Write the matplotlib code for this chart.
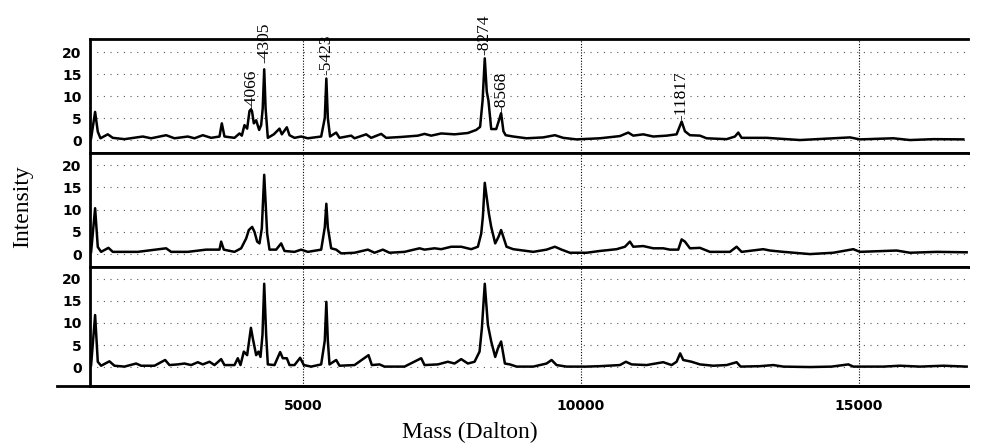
import numpy as np
import matplotlib
matplotlib.use("Agg")
import matplotlib.pyplot as plt


mass_top = [1190, 1262, 1310, 1358, 1490, 1580, 1790, 2120, 2270, 2540, 2690, 2930,
            3050, 3200, 3350, 3500, 3542, 3590, 3770, 3860, 3902, 3950, 3998, 4040,
            4066, 4085, 4118, 4160, 4214, 4250, 4278, 4305, 4330, 4370, 4478, 4580,
            4622, 4712, 4760, 4850, 4970, 5090, 5330, 5395, 5423, 5450, 5490, 5600,
            5660, 5870, 5930, 6140, 6230, 6410, 6500, 6770, 7070, 7190, 7310, 7490,
            7730, 7970, 8120, 8190, 8235, 8274, 8310, 8340, 8390, 8480, 8530, 8568,
            8610, 8650, 8786, 9026, 9326, 9536, 9686, 9926, 10346, 10706, 10856, 10946,
            11126, 11306, 11546, 11726, 11817, 11876, 11966, 12146, 12266, 12626, 12776,
            12836, 12896, 13346, 13946, 14546, 14846, 15026, 15626, 15926, 16346, 16886]
int_top = [0.4, 6.4, 1.9, 0.4, 1.3, 0.5, 0.2, 0.8, 0.4, 1.1, 0.4, 0.8,
           0.4, 1.1, 0.5, 0.8, 3.8, 0.8, 0.5, 1.5, 1.0, 3.4, 2.6, 6.6,
           7.0, 6.6, 3.8, 4.5, 2.3, 3.4, 7.2, 16.1, 7.2, 0.5, 1.3, 2.6,
           1.3, 2.9, 1.1, 0.5, 0.8, 0.4, 0.8, 5.0, 14.0, 5.0, 0.8, 1.7,
           0.5, 1.0, 0.4, 1.3, 0.5, 1.4, 0.5, 0.7, 1.0, 1.4, 1.0, 1.5,
           1.3, 1.6, 2.3, 3.0, 9.0, 18.6, 11.0, 9.0, 2.5, 2.5, 4.5, 6.1,
           2.0, 1.1, 0.8, 0.4, 0.6, 1.1, 0.5, 0.15, 0.4, 0.9, 1.7, 1.0,
           1.3, 0.8, 1.0, 1.3, 4.2, 2.0, 1.1, 1.0, 0.4, 0.2, 0.8,
           1.7, 0.5, 0.5, 0.0, 0.4, 0.6, 0.15, 0.4, 0.0, 0.2, 0.15]

mass_mid = [1190, 1262, 1310, 1370, 1502, 1580, 2030, 2540, 2630, 2930, 3260, 3500,
            3530, 3578, 3770, 3890, 3980, 4028, 4088, 4130, 4178, 4220, 4262, 4305,
            4358, 4400, 4520, 4610, 4670, 4850, 4970, 5090, 5330, 5395, 5423, 5450,
            5510, 5600, 5690, 5930, 6170, 6290, 6440, 6560, 6830, 7100, 7190, 7370,
            7490, 7670, 7850, 8030, 8150, 8210, 8240, 8274, 8348, 8390, 8462, 8522,
            8568, 8666, 8786, 8966, 9146, 9386, 9536, 9656, 9806, 10106, 10346, 10646,
            10796, 10886, 10946, 11126, 11306, 11486, 11606, 11756, 11817, 11876, 11966,
            12146, 12326, 12686, 12806, 12896, 13286, 13406, 13646, 14126, 14546, 14906,
            15026, 15686, 15926, 16406, 16946]
int_mid = [0.5, 10.3, 1.6, 0.5, 1.4, 0.5, 0.5, 1.3, 0.5, 0.5, 1.0, 1.0,
           2.8, 1.0, 0.5, 1.3, 3.5, 5.4, 6.1, 5.0, 2.8, 2.4, 5.8, 17.8,
           4.6, 1.0, 1.0, 2.4, 0.7, 0.5, 1.0, 0.5, 1.0, 6.0, 11.3, 6.0,
           1.3, 1.0, 0.15, 0.3, 1.0, 0.3, 1.0, 0.3, 0.5, 1.3, 1.0, 1.3,
           1.1, 1.65, 1.65, 1.1, 1.65, 4.6, 8.4, 16.0, 9.1, 6.1, 2.4, 3.9,
           5.4, 1.65, 1.1, 0.8, 0.5, 1.0, 1.65, 1.0, 0.3, 0.3, 0.7, 1.1,
           1.65, 2.8, 1.65, 1.8, 1.3, 1.3, 1.0, 1.0, 3.3, 2.8, 1.3,
           1.4, 0.5, 0.5, 1.65, 0.5, 1.1, 0.8, 0.5, 0.0, 0.3, 1.1,
           0.5, 0.8, 0.3, 0.5, 0.4]

mass_bot = [1190, 1262, 1310, 1370, 1520, 1610, 1790, 2000, 2090, 2330, 2522, 2600,
            2750, 2870, 2990, 3110, 3200, 3320, 3410, 3530, 3590, 3770, 3830, 3878,
            3938, 3998, 4066, 4100, 4160, 4202, 4238, 4274, 4305, 4340, 4370, 4490,
            4592, 4640, 4712, 4760, 4850, 4952, 5018, 5150, 5330, 5395, 5423, 5450,
            5480, 5600, 5660, 5930, 6182, 6242, 6380, 6470, 6830, 7130, 7190, 7430,
            7610, 7730, 7850, 7970, 8090, 8180, 8222, 8274, 8330, 8390, 8462, 8510,
            8568, 8636, 8726, 8846, 9146, 9386, 9476, 9566, 9746, 10106, 10346, 10706,
            10814, 10916, 11186, 11486, 11636, 11726, 11790, 11846, 11996, 12146, 12386,
            12626, 12806, 12878, 13226, 13466, 13646, 14126, 14516, 14816, 14906, 15446,
            15746, 16106, 16526, 16946]
int_bot = [0.45, 11.8, 1.2, 0.3, 1.3, 0.3, 0.1, 0.8, 0.3, 0.3, 1.6, 0.45,
           0.6, 0.8, 0.45, 1.1, 0.6, 1.2, 0.45, 1.8, 0.45, 0.45, 2.0, 0.45,
           3.5, 2.7, 8.9, 6.5, 2.7, 3.5, 2.3, 7.3, 18.9, 7.3, 0.6, 0.45,
           3.4, 2.0, 2.0, 0.45, 0.45, 2.1, 0.45, 0.1, 0.6, 6.0, 14.8, 6.0,
           0.6, 1.6, 0.3, 0.45, 2.7, 0.45, 0.6, 0.1, 0.1, 2.0, 0.45, 0.6,
           1.2, 0.8, 1.8, 0.8, 1.2, 3.5, 8.8, 18.9, 9.6, 5.8, 2.3, 4.2,
           5.8, 0.8, 0.6, 0.1, 0.1, 0.8, 1.6, 0.45, 0.1, 0.1, 0.2, 0.45,
           1.2, 0.6, 0.45, 1.1, 0.45, 1.2, 3.1, 1.6, 1.2, 0.6, 0.3,
           0.45, 1.1, 0.1, 0.2, 0.45, 0.1, 0.0, 0.1, 0.6, 0.1, 0.1,
           0.3, 0.1, 0.3, 0.1]

peak_masses = [4066, 4305, 5423, 8274, 8568, 11817]
peak_label_heights = [6.8, 17.5, 14.8, 19.3, 6.4, 4.5]

x_ticks = [5000, 10000, 15000]
y_ticks = [0, 5, 10, 15, 20]

fig, axes = plt.subplots(
    3, 1, figsize=(9.84, 4.48), dpi=100, sharex=True,
    gridspec_kw=dict(hspace=0, height_ratios=[114, 114, 119]),
)
fig.subplots_adjust(left=90 / 984, right=968 / 984, top=1 - 39 / 448, bottom=1 - 386 / 448)

ylims = [(-2.95, 23.0), (-2.9, 22.7), (-4.3, 22.7)]
for ax, (m, inten), ylim in zip(
    axes, [(mass_top, int_top), (mass_mid, int_mid), (mass_bot, int_bot)], ylims
):
    ax.plot(m, inten, color="black", linewidth=1.8, solid_joinstyle="round")
    ax.set_ylim(*ylim)
    ax.set_yticks(y_ticks)
    ax.set_yticklabels([str(v) for v in y_ticks], fontweight="bold", fontsize=10)
    ax.tick_params(axis="both", length=0, pad=6)
    ax.grid(True, axis="y", linestyle=(0, (1, 5)), color="0.35", linewidth=0.8)
    for xv in x_ticks:
        ax.axvline(xv, color="black", linestyle=(0, (1, 1.5)), linewidth=0.8, zorder=1)
    ax.spines["right"].set_visible(False)
    ax.spines["left"].set_linewidth(2.0)
    ax.spines["top"].set_linewidth(2.0)
    ax.spines["bottom"].set_linewidth(2.0)

axes[-1].set_xlim(1170, 16970)
axes[-1].set_xticks(x_ticks)
axes[-1].set_xticklabels([str(v) for v in x_ticks], fontweight="bold", fontsize=10)
axes[-1].tick_params(axis="x", pad=9)
axes[-1].plot([-0.038, 1.0], [0, 0], transform=axes[-1].transAxes,
              color="black", linewidth=2.0, clip_on=False)

for pm, ph in zip(peak_masses, peak_label_heights):
    axes[0].text(pm, ph, "-" + str(pm), rotation=90, ha="center", va="bottom",
                 family="Liberation Serif", fontsize=12.5)

fig.text(23 / 984, 1 - 207 / 448, "Intensity", rotation=90, ha="center", va="center",
         family="Liberation Serif", fontsize=17)
fig.text(470 / 984, 1 - 432 / 448, "Mass (Dalton)", ha="center", va="center",
         family="Liberation Serif", fontsize=17)

fig.savefig("out.png", dpi=100)
